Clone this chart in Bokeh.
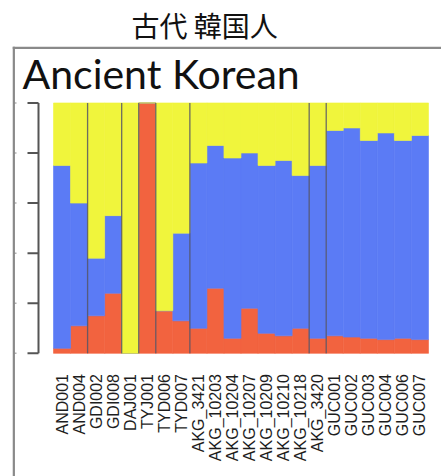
import math
from bokeh.plotting import figure
from bokeh.models import Range1d, Label, Span, ColumnDataSource
from bokeh.core.properties import value
from bokeh.embed import file_html
from bokeh.resources import INLINE

# ---- data ----
samples = ["AND001", "AND004", "GDI002", "GDI008", "DAJ001", "TYJ001", "TYD006", "TYD007",
           "AKG_3421", "AKG_10203", "AKG_10204", "AKG_10207", "AKG_10209", "AKG_10210",
           "AKG_10218", "AKG_3420", "GUC001", "GUC002", "GUC003", "GUC004", "GUC006", "GUC007"]
red = [0.02, 0.11, 0.15, 0.24, 0.00, 1.00, 0.17, 0.13, 0.10, 0.26, 0.06, 0.18, 0.08, 0.07,
       0.10, 0.06, 0.07, 0.065, 0.06, 0.055, 0.06, 0.055]
blue = [0.73, 0.49, 0.23, 0.31, 0.00, 0.00, 0.00, 0.35, 0.66, 0.57, 0.72, 0.62, 0.67, 0.70,
        0.61, 0.69, 0.82, 0.835, 0.79, 0.825, 0.79, 0.815]
yellow = [0.25, 0.40, 0.62, 0.45, 1.00, 0.00, 0.83, 0.52, 0.24, 0.17, 0.22, 0.20, 0.25, 0.23,
          0.29, 0.25, 0.11, 0.10, 0.15, 0.12, 0.15, 0.13]
group_sizes = [2, 2, 1, 1, 2, 7, 1, 6]   # AND, GDI, DAJ, TYJ, TYD, AKG, AKG_3420, GUC
y_ticks = [0.0, 0.2, 0.4, 0.6, 0.8, 1.0]
title_text = "古代 韓国人"
panel_text = "Ancient Korean"

RED = "#F2633F"
BLUE = "#5B7BF5"
YELLOW = "#F0F53C"

W, H = 441, 476
BOX_L, BOX_T = 12, 44          # outer panel box (page px)
BAR_L, BAR_R = 53, 428         # bar area horizontal extent (page px)
Y0_PX, Y1_PX = 352.3, 100.7    # page px of y=0 and y=1

n = len(samples)
ux = (BAR_R - BAR_L) / n           # px per bar
uy = (Y0_PX - Y1_PX)               # px per unit y


def dx(px):
    return (px - BAR_L) / ux


def dy(py):
    return (Y0_PX - py) / uy


xs = [i + 0.5 for i in range(n)]
src = ColumnDataSource(dict(x=xs, red=red, blue=blue, yellow=yellow))

p = figure(width=W, height=H, output_backend="svg", toolbar_location=None,
           x_range=Range1d(dx(BOX_L), dx(W)), y_range=Range1d(dy(H), dy(BOX_T)),
           min_border_left=BOX_L, min_border_right=0, min_border_top=BOX_T, min_border_bottom=0)
p.axis.visible = False
p.outline_line_color = None
p.grid.visible = False
p.background_fill_color = "white"
p.border_fill_color = "white"

# title above the panel
p.title.text = title_text
p.title.align = "left"
p.title.offset = 119
p.title.standoff = 4
p.title.text_font = "Noto Sans CJK JP"
p.title.text_font_size = "28px"
p.title.text_font_style = "normal"
p.title.text_color = "#111111"

# panel box (top and left edges)
p.add_layout(Span(location=dy(BOX_T + 1.2), dimension="width", line_color="#8a8a8a", line_width=2.5))
p.add_layout(Span(location=dx(BOX_L + 1.2), dimension="height", line_color="#8a8a8a", line_width=2.5))

# stacked bars
p.vbar_stack(["red", "blue", "yellow"], x="x", width=1.0, source=src,
             color=[RED, BLUE, YELLOW], line_width=0.6)

# group separators
bounds = []
acc = 0
for g in group_sizes[:-1]:
    acc += g
    bounds.append(acc)
p.segment(x0=bounds, y0=[0] * len(bounds), x1=bounds, y1=[1] * len(bounds),
          line_color="#555566", line_width=1.3, line_alpha=0.85)

# y axis bracket (no labels)
ax_x = dx(38)
tick_x = dx(27)
p.segment(x0=[ax_x], y0=[y_ticks[0]], x1=[ax_x], y1=[y_ticks[-1]],
          line_color="#555555", line_width=2)
p.segment(x0=[tick_x] * len(y_ticks), y0=y_ticks, x1=[ax_x] * len(y_ticks), y1=y_ticks,
          line_color="#555555", line_width=2)
# faint marks on the panel edge
p.segment(x0=[dx(BOX_L + 1)] * len(y_ticks), y0=y_ticks, x1=[dx(BOX_L + 4)] * len(y_ticks), y1=y_ticks,
          line_color="#b0b0b0", line_width=1.5)

# x tick labels (vertical)
p.text(x=xs, y=[dy(373)] * n, text=samples, angle=math.pi / 2,
       text_align="right", text_baseline="middle",
       text_font=value("Liberation Sans"), text_font_size="16px", text_color="#1e1e1e")

# panel heading
p.add_layout(Label(x=dx(22), y=dy(71), text=panel_text, text_align="left",
                   text_baseline="alphabetic", text_font="Lato",
                   text_font_size="41px", text_color="#111111"))

open("out.html", "w").write(file_html(p, INLINE))
